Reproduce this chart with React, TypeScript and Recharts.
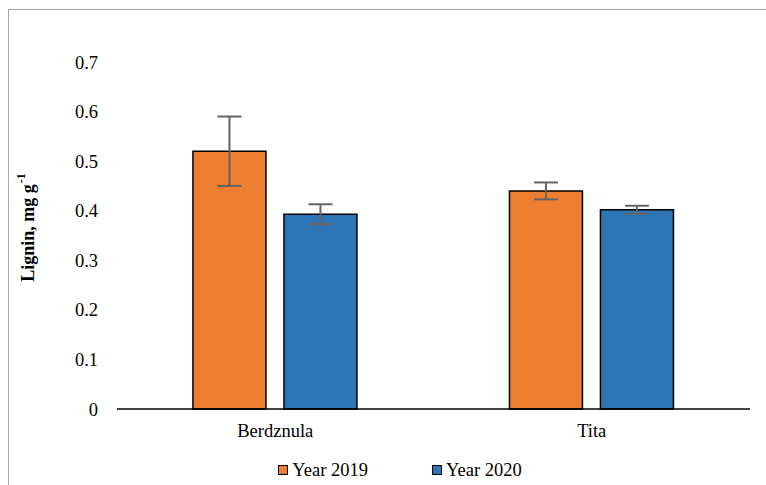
import { BarChart, Bar, XAxis, YAxis, Legend, ErrorBar } from 'recharts';

const cultivars = ['Berdznula', 'Tita'];
const lignin2019 = [0.52, 0.44];
const lignin2020 = [0.393, 0.402];
const err2019 = [0.07, 0.017];
const err2020 = [0.02, 0.008];
const yTicks = [0, 0.1, 0.2, 0.3, 0.4, 0.5, 0.6, 0.7];

const FONT = '"Liberation Serif", "Times New Roman", serif';
const ORANGE = '#ED7D31';
const BLUE = '#2E75B6';

const data = cultivars.map((name, i) => ({
  name,
  y2019: lignin2019[i],
  y2020: lignin2020[i],
  e2019: err2019[i],
  e2020: err2020[i],
}));

const legendItems = [
  { label: 'Year 2019', color: ORANGE },
  { label: 'Year 2020', color: BLUE },
];

// rotated axis title with a superscript exponent
function YLabel({ viewBox }: any) {
  const x = viewBox.x + 19;
  const y = viewBox.y + viewBox.height / 2 - 8;
  return (
    <text
      x={x}
      y={y}
      transform={`rotate(-90, ${x}, ${y})`}
      textAnchor="middle"
      fontFamily={FONT}
      fontWeight="bold"
      fontSize={18}
      fill="#000"
      dominantBaseline="central"
    >
      Lignin, mg g
      <tspan fontSize={12} dx={1} dy={-7}>-1</tspan>
    </text>
  );
}

function LegendBox() {
  return (
    <div
      style={{
        display: 'flex',
        justifyContent: 'center',
        paddingLeft: 41,
        paddingTop: 21,
        fontFamily: FONT,
        fontSize: 18.5,
        lineHeight: '20px',
        color: '#000',
      }}
    >
      {legendItems.map((it, i) => (
        <div key={it.label} style={{ display: 'flex', alignItems: 'center', marginLeft: i ? 64 : 0 }}>
          <span
            style={{
              width: 8,
              height: 8,
              background: it.color,
              border: '1px solid #000',
              marginRight: 4,
            }}
          />
          <span>{it.label}</span>
        </div>
      ))}
    </div>
  );
}

export default function App() {
  return (
    <div>
      <style>{'body{margin:0;overflow:hidden;background:#fff}'}</style>
      <div
        style={{
          position: 'absolute',
          left: 8,
          top: 9,
          width: 757,
          height: 476,
          borderLeft: '1px solid #a6a6a6',
          borderTop: '1px solid #a6a6a6',
        }}
      >
        <BarChart
          width={757}
          height={476}
          data={data}
          margin={{ top: 52, right: 16, left: 0, bottom: 10 }}
          barCategoryGap="24%"
          barGap={18}
        >
          <XAxis
            dataKey="name"
            axisLine={{ stroke: '#000', strokeWidth: 1.5 }}
            tickLine={false}
            tickSize={6}
            tickMargin={9}
            height={30}
            tick={{ fill: '#000', fontSize: 18.5, fontFamily: FONT }}
          />
          <YAxis
            domain={[0, 0.7]}
            ticks={yTicks}
            width={108}
            axisLine={false}
            tickLine={false}
            tickSize={0}
            tickMargin={19}
            tick={{ fill: '#000', fontSize: 18.5, fontFamily: FONT }}
            label={<YLabel />}
          />
          <Legend verticalAlign="bottom" height={37} content={<LegendBox />} />
          <Bar dataKey="y2019" fill={ORANGE} stroke="#000" strokeWidth={1.5} isAnimationActive={false}>
            <ErrorBar dataKey="e2019" width={12} stroke="#646464" strokeWidth={2} />
          </Bar>
          <Bar dataKey="y2020" fill={BLUE} stroke="#000" strokeWidth={1.5} isAnimationActive={false}>
            <ErrorBar dataKey="e2020" width={12} stroke="#646464" strokeWidth={2} />
          </Bar>
        </BarChart>
      </div>
    </div>
  );
}
